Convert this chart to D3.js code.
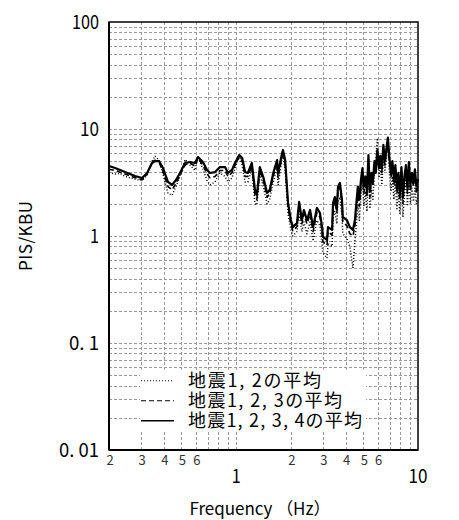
<!DOCTYPE html>
<html>
<head>
<meta charset="utf-8">
<script src="https://cdn.jsdelivr.net/npm/d3@7"></script>
<style>
  body { margin: 0; background: #fff; }
  svg text { font-family: "Noto Sans CJK JP", sans-serif; fill: #000; }
</style>
</head>
<body>
<div class="viz"></div>
<script>
// frequencies (Hz)
var freq = [0.200,0.216,0.230,0.245,0.261,0.278,0.304,0.324,0.345,0.358,
    0.377,0.396,0.422,0.444,0.467,0.491,0.524,0.557,0.594,0.617,
    0.657,0.692,0.718,0.766,0.815,0.869,0.902,0.949,0.986,1.04,
    1.08,1.12,1.16,1.22,1.27,1.30,1.35,1.41,1.48,1.53,
    1.60,1.68,1.70,1.79,1.81,1.86,1.93,2.00,2.05,2.16,
    2.22,2.30,2.36,2.45,2.55,2.65,2.78,2.89,2.97,3.00,
    3.16,3.20,3.37,3.41,3.49,3.58,3.63,3.72,3.82,3.86,
    4.06,4.22,4.39,
    4.50,4.59,4.67,4.76,4.86,4.95,5.04,5.14,5.24,5.34,
    5.44,5.55,5.65,5.76,5.87,5.98,6.10,6.21,6.33,6.45,
    6.58,6.70,6.83,6.96,7.10,7.23,7.37,7.51,7.66,7.80,
    7.95,8.11,8.26,8.42,8.58,8.75,8.91,9.09,9.26,9.44,
    9.62,9.80,10.0];

// 地震1,2の平均
var avg12 = [3.9,3.8,3.85,3.6,3.5,3.4,3.3,3.7,5.0,5.6,
    5.1,3.8,2.5,2.4,2.9,3.6,5.2,4.6,4.1,5.6,
    4.2,3.3,3.0,3.2,3.9,3.6,3.2,3.5,4.3,5.6,
    4.6,3.2,3.2,4.2,2.0,1.95,3.8,2.9,2.0,2.2,
    3.2,4.4,3.0,5.2,5.5,4.2,1.6,1.15,1.0,1.1,
    1.6,1.1,1.35,1.05,1.35,0.9,1.4,1.25,0.85,0.7,
    0.62,0.85,0.8,1.5,1.7,1.3,2.1,2.3,1.5,1.05,
    0.95,0.8,0.5,
    0.9,1.3,2.0,1.4,2.4,3.2,1.9,2.6,1.7,4.2,
    1.8,2.7,2.2,4.0,5.5,8.2,3.5,4.6,3.0,5.8,
    4.0,5.3,7.0,3.9,2.6,3.6,2.2,3.3,1.8,2.6,
    1.6,3.0,1.5,2.4,3.4,1.9,3.4,2.0,2.8,2.1,
    2.8,2.0,2.4];

// 地震1,2,3の平均
var avg123 = [4.2,4.1,3.95,3.8,3.65,3.5,3.35,3.8,4.9,5.1,
    4.9,4.0,2.9,2.7,3.1,3.7,4.6,4.8,4.5,5.3,
    4.6,3.8,3.5,3.6,4.1,4.1,3.6,3.9,4.6,5.5,
    5.0,3.6,3.6,4.5,2.4,2.2,4.1,3.3,2.3,2.5,
    3.6,4.8,3.5,5.6,6.0,4.8,1.85,1.3,1.12,1.22,
    1.9,1.3,1.6,1.3,1.6,1.1,1.65,1.5,1.1,0.88,
    0.82,1.1,1.02,1.85,2.1,1.65,2.6,2.85,1.95,1.35,
    1.25,1.05,1.0,
    1.25,1.8,2.6,1.9,3.0,3.9,2.5,3.3,2.3,5.2,
    2.3,3.5,2.9,4.6,3.7,6.0,4.1,5.3,3.9,6.7,
    4.6,6.2,7.6,4.9,3.5,4.6,3.0,4.2,2.5,3.5,
    2.2,4.0,2.0,3.2,4.2,2.5,4.4,2.6,3.5,2.9,
    3.8,2.5,3.0];

// 地震1,2,3,4の平均
var avg1234 = [4.51,4.32,4.14,3.96,3.80,3.64,3.48,3.88,4.81,5.02,
    5.02,4.32,3.20,3.00,3.34,3.88,4.81,4.92,4.81,5.47,
    4.92,4.14,3.88,3.96,4.41,4.41,3.88,4.14,4.81,5.71,
    5.36,3.96,3.88,4.81,2.69,2.42,4.41,3.56,2.52,2.69,
    3.88,5.13,3.88,5.97,6.37,5.13,2.03,1.41,1.21,1.32,
    2.08,1.41,1.75,1.41,1.75,1.21,1.83,1.64,1.21,0.98,
    0.92,1.21,1.14,2.03,2.31,1.83,2.87,3.13,2.17,1.51,
    1.41,1.21,1.14,
    1.41,2.1,2.9,2.2,3.4,4.3,2.9,3.6,2.6,5.7,
    2.6,3.9,3.2,5.0,4.1,6.4,4.6,5.6,4.3,7.1,
    5.0,6.5,8.3,5.4,3.9,5.0,3.4,4.6,2.8,3.9,
    2.5,4.4,2.3,3.6,4.6,2.8,4.9,3.0,3.9,3.3,
    4.2,2.9,3.4];

var seriesNames = ['地震1, 2の平均', '地震1, 2, 3の平均', '地震1, 2, 3, 4の平均'];
var seriesDash = ['1,2', '5,3', null];
var seriesWidth = [1.5, 1.6, 2.2];

var yTicks = [100, 10, 1, 0.1, 0.01];
var yTickLabels = ['100', '10', '1', '0. 1', '0. 01'];
var xMinorTicks = [0.2, 0.3, 0.4, 0.5, 0.6, 2, 3, 4, 5, 6];
var xMinorLabels = ['2', '3', '4', '5', '6', '2', '3', '4', '5', '6'];
var xMajorTicks = [1, 10];

var margin = {top: 22, right: 41, bottom: 70, left: 109},
    width = 459, height = 520,
    innerW = width - margin.left - margin.right,
    innerH = height - margin.top - margin.bottom;

var x = d3.scaleLog().domain([0.2, 10]).range([0, innerW]);
var y = d3.scaleLog().domain([0.01, 100]).range([innerH, 0]);

var svg = d3.select('.viz').append('svg')
    .attr('width', width)
    .attr('height', height);

var g = svg.append('g')
    .attr('transform', 'translate(' + margin.left + ',' + margin.top + ')');

// grid
var xGrid = [];
[0.1, 1].forEach(function (d) { for (var i = 1; i < 10; i++) xGrid.push(d * i); });
xGrid = xGrid.filter(function (v) { return v > 0.2 && v < 10; });
var yGrid = [];
[0.01, 0.1, 1, 10].forEach(function (d) { for (var i = 1; i < 10; i++) yGrid.push(d * i); });
yGrid = yGrid.filter(function (v) { return v > 0.01; });

g.selectAll('.vgrid').data(xGrid).enter().append('line')
    .attr('class', 'vgrid')
    .attr('x1', function (d) { return Math.round(x(d)) + 0.5; })
    .attr('x2', function (d) { return Math.round(x(d)) + 0.5; })
    .attr('y1', 0).attr('y2', innerH)
    .attr('stroke', '#9a9a9a').attr('stroke-width', 1)
    .attr('stroke-dasharray', '3,2');

g.selectAll('.hgrid').data(yGrid).enter().append('line')
    .attr('class', 'hgrid')
    .attr('x1', 0).attr('x2', innerW)
    .attr('y1', function (d) { return Math.round(y(d)) + 0.5; })
    .attr('y2', function (d) { return Math.round(y(d)) + 0.5; })
    .attr('stroke', '#9a9a9a').attr('stroke-width', 1)
    .attr('stroke-dasharray', '3,2');

// curves
var line = d3.line()
    .x(function (d) { return x(d[0]); })
    .y(function (d) { return y(d[1]); });

var allSeries = [avg12, avg123, avg1234];
allSeries.forEach(function (vals, i) {
    g.append('path')
        .datum(freq.map(function (f, j) { return [f, vals[j]]; }))
        .attr('d', line)
        .attr('fill', 'none')
        .attr('stroke', '#000')
        .attr('stroke-width', seriesWidth[i])
        .attr('stroke-linejoin', 'round')
        .attr('stroke-dasharray', seriesDash[i]);
});

// legend
var legend = g.append('g')
    .attr('transform', 'translate(' + (x(0.3) - 1) + ',' + (y(0.06) + 3) + ')');
legend.append('rect')
    .attr('x', 0).attr('y', 0)
    .attr('width', 226).attr('height', 61)
    .attr('fill', '#fff');
var legendLen = [133, 154, 174];
seriesNames.forEach(function (name, i) {
    var ly = 11 + i * 20;
    legend.append('line')
        .attr('x1', 1).attr('x2', 34)
        .attr('y1', ly).attr('y2', ly)
        .attr('stroke', '#000')
        .attr('stroke-width', i === 2 ? 1.6 : 1.2)
        .attr('stroke-dasharray', seriesDash[i]);
    legend.append('text')
        .attr('x', 48).attr('y', ly)
        .attr('dy', '0.36em')
        .attr('textLength', legendLen[i])
        .style('font-size', '18px')
        .text(name);
});

// frame
g.append('rect')
    .attr('x', 0).attr('y', 0)
    .attr('width', innerW).attr('height', innerH)
    .attr('fill', 'none')
    .attr('stroke', '#000').attr('stroke-width', 1.5);
g.append('line')
    .attr('x1', 0).attr('x2', 0).attr('y1', 0).attr('y2', innerH)
    .attr('stroke', '#000').attr('stroke-width', 2);
g.append('line')
    .attr('x1', 0).attr('x2', innerW).attr('y1', innerH).attr('y2', innerH)
    .attr('stroke', '#000').attr('stroke-width', 2);

// tick labels
var yLabelLen = [27, 19, 9, 30, 40];
g.selectAll('.ylab').data(yTicks).enter().append('text')
    .attr('class', 'ylab')
    .attr('x', -10)
    .attr('y', function (d) { return y(d); })
    .attr('dy', '0.35em')
    .attr('text-anchor', 'end')
    .attr('textLength', function (d, i) { return yLabelLen[i]; })
    .attr('lengthAdjust', 'spacingAndGlyphs')
    .style('font-size', '19px')
    .text(function (d, i) { return yTickLabels[i]; });

g.selectAll('.xminor').data(xMinorTicks).enter().append('text')
    .attr('class', 'xminor')
    .attr('x', function (d) { return x(d) + 1; })
    .attr('y', innerH + 10)
    .attr('dy', '0.35em')
    .attr('text-anchor', 'middle')
    .style('font-size', '13px')
    .style('fill', '#333')
    .text(function (d, i) { return xMinorLabels[i]; });

g.selectAll('.xmajor').data(xMajorTicks).enter().append('text')
    .attr('class', 'xmajor')
    .attr('x', function (d) { return x(d); })
    .attr('y', innerH + 26)
    .attr('dy', '0.35em')
    .attr('text-anchor', 'middle')
    .attr('textLength', function (d) { return d === 10 ? 19 : 9; })
    .attr('lengthAdjust', 'spacingAndGlyphs')
    .style('font-size', '19px')
    .text(function (d) { return d; });

// axis titles
svg.append('text')
    .attr('x', 260).attr('y', 509)
    .attr('dy', '0.35em')
    .attr('text-anchor', 'middle')
    .attr('textLength', 141)
    .style('font-size', '17px')
    .text('Frequency （Hz）');

svg.append('text')
    .attr('transform', 'translate(26,236) rotate(-90)')
    .attr('dy', '0.35em')
    .attr('text-anchor', 'middle')
    .attr('textLength', 70)
    .style('font-size', '17px')
    .text('PIS/KBU');
</script>
</body>
</html>
